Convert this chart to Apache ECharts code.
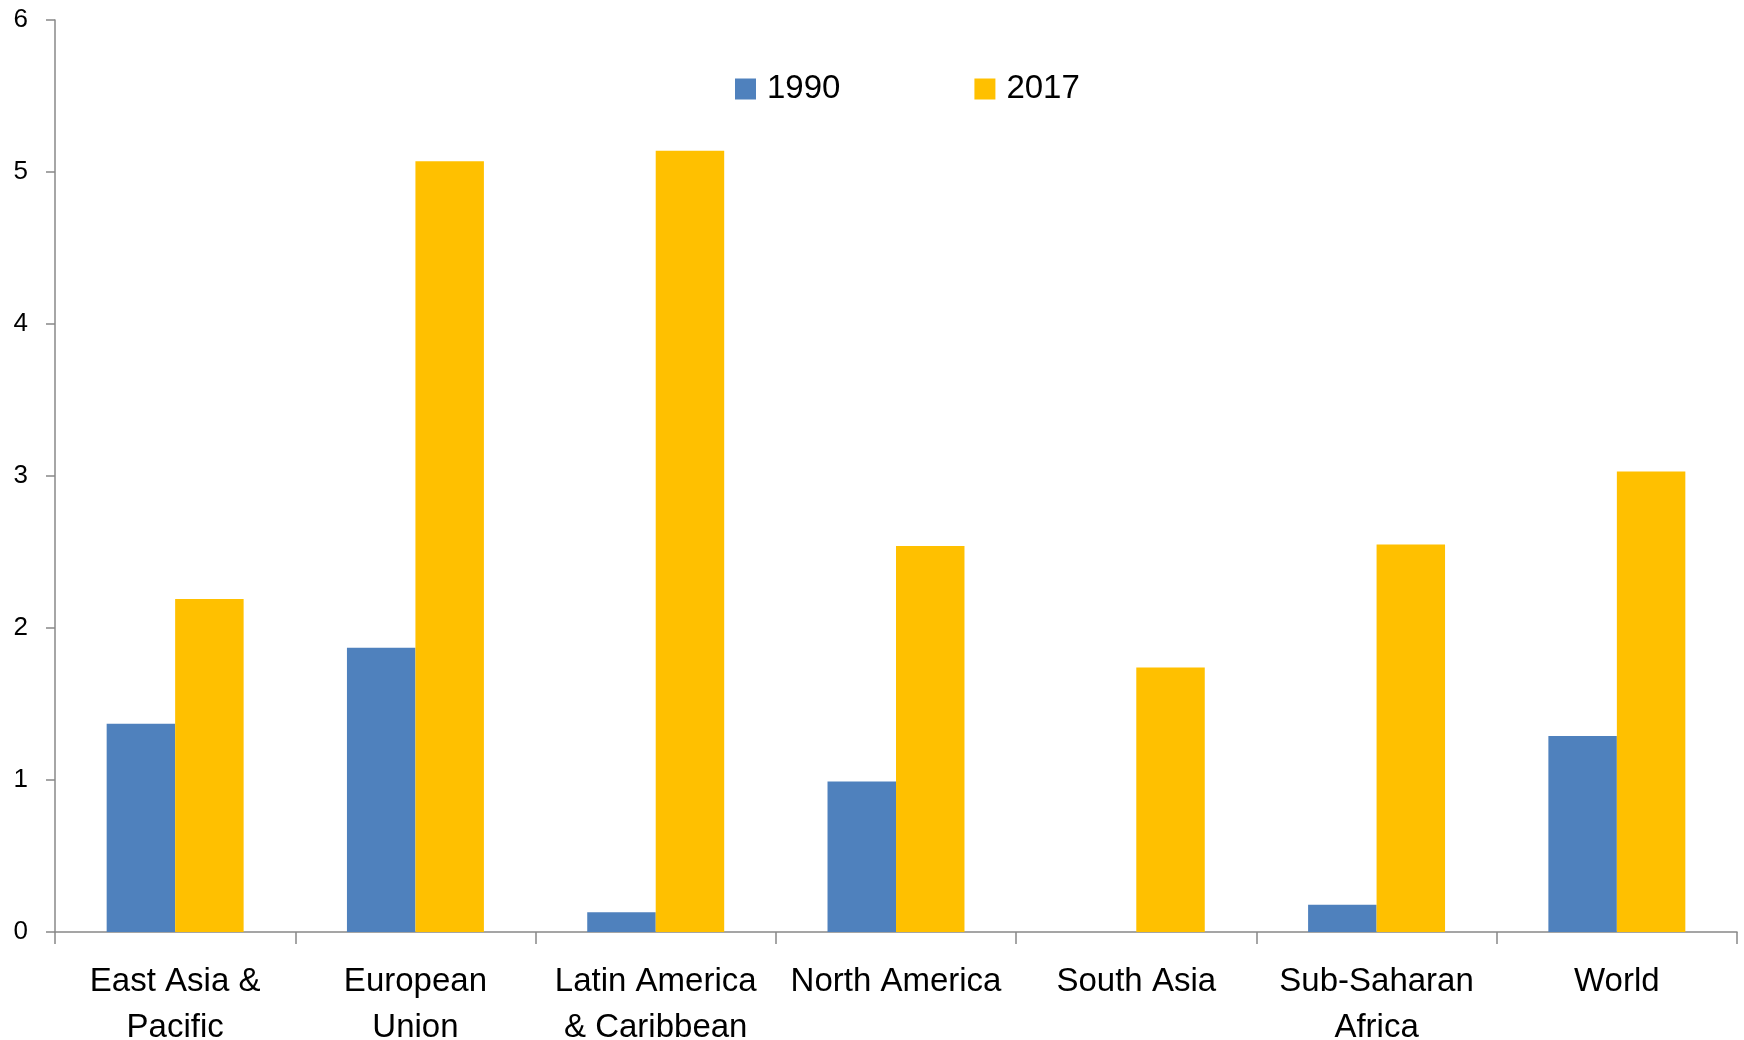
<!DOCTYPE html>
<html>
<head>
<meta charset="utf-8">
<script src="https://cdn.jsdelivr.net/npm/echarts@6/dist/echarts.min.js"></script>
<style>
html,body{margin:0;padding:0;background:#fff;}
#chart{width:1744px;height:1040px;}
</style>
</head>
<body>
<div id="chart"></div>
<script>
var categories = ["East Asia &\nPacific", "European\nUnion", "Latin America\n& Caribbean", "North America", "South Asia", "Sub-Saharan\nAfrica", "World"];
var seriesNames = ["1990", "2017"];
var values1990 = [1.37, 1.87, 0.13, 0.99, null, 0.18, 1.29];
var values2017 = [2.19, 5.07, 5.14, 2.54, 1.74, 2.55, 3.03];
var yTicks = [0, 1, 2, 3, 4, 5, 6];

var chart = echarts.init(document.getElementById('chart'));
var font = "'Liberation Sans', Arial, sans-serif";
var axisGray = '#888888';
chart.setOption({
  animation: false,
  backgroundColor: '#ffffff',
  textStyle: {fontFamily: font, color: '#000'},
  grid: {left: 55, right: 7, top: 20, bottom: 108, containLabel: false, outerBoundsMode: 'none'},
  legend: {
    data: seriesNames,
    left: 735,
    top: 72,
    padding: 0,
    itemWidth: 21,
    itemHeight: 21,
    itemGap: 134,
    icon: 'rect',
    textStyle: {fontFamily: font, fontSize: 33, color: '#000', lineHeight: 34, padding: [0, 0, 0, 6]}
  },
  xAxis: {
    type: 'category',
    data: categories,
    axisLine: {lineStyle: {color: axisGray, width: 1.5}},
    axisTick: {show: true, length: 12, lineStyle: {color: axisGray, width: 1.5}},
    axisLabel: {interval: 0, fontFamily: font, fontSize: 33, color: '#000', lineHeight: 46, margin: 27}
  },
  yAxis: {
    type: 'value',
    min: yTicks[0],
    max: yTicks[yTicks.length - 1],
    interval: 1,
    splitLine: {show: false},
    axisLine: {show: true, lineStyle: {color: axisGray, width: 1.5}},
    axisTick: {show: true, length: 9, lineStyle: {color: axisGray, width: 1.5}},
    axisLabel: {fontFamily: font, fontSize: 26, color: '#000', margin: 27}
  },
  series: [
    {name: seriesNames[0], type: 'bar', data: values1990, barWidth: '28.5%', barGap: '0%', itemStyle: {color: '#4F81BD'}},
    {name: seriesNames[1], type: 'bar', data: values2017, barWidth: '28.5%', barGap: '0%', itemStyle: {color: '#FFC000'}}
  ]
});
</script>
</body>
</html>
